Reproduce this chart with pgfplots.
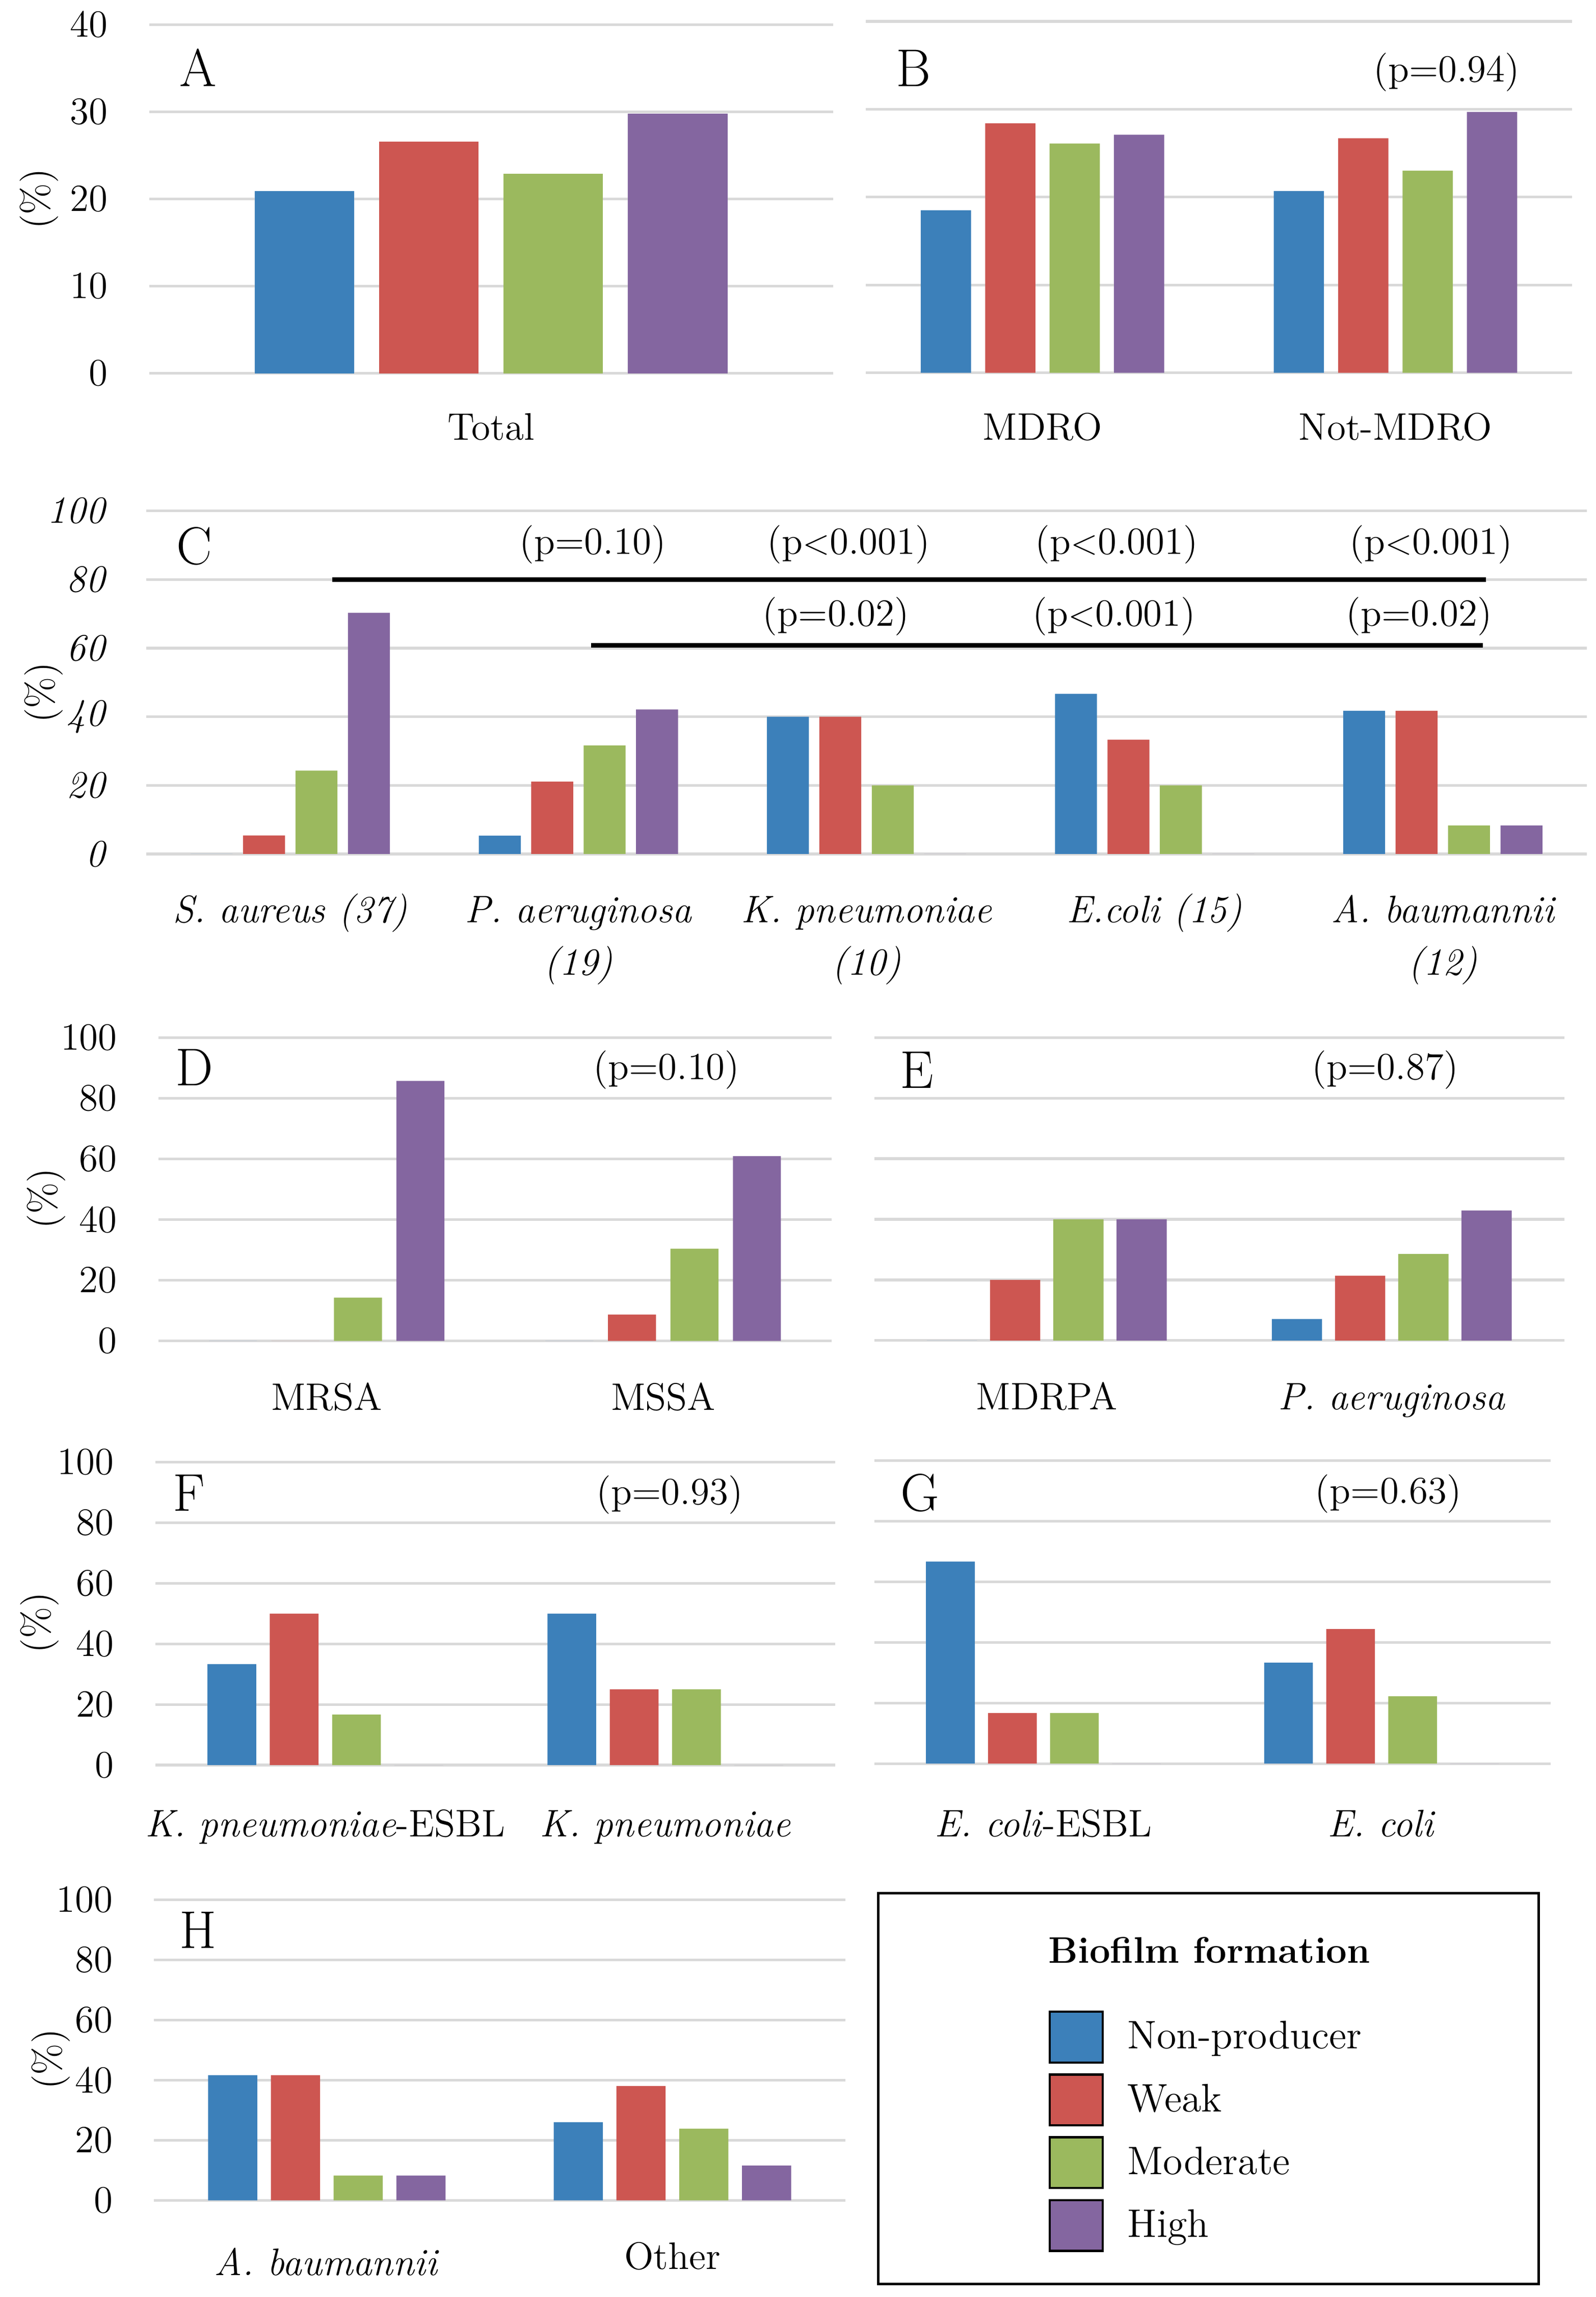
\documentclass[border=0pt]{standalone}
\usepackage{pgfplots}
\pgfplotsset{compat=1.18}
\definecolor{cBlue}{HTML}{3C80BA}
\definecolor{cRed}{HTML}{CD5651}
\definecolor{cGreen}{HTML}{9BB95E}
\definecolor{cPurple}{HTML}{8466A0}
\definecolor{gridgray}{HTML}{D9D9D9}
\newcommand\tf{\fontsize{13}{15.6}\selectfont}
\newcommand\lf{\fontsize{18}{21}\selectfont}
\pgfplotsset{
 /pgfplots/ybar legend/.style={/pgfplots/legend image code/.code={\draw[##1, draw=black, line width=0.75pt] (0pt,-8.6pt) rectangle (18pt,8.6pt);}},
 panel/.style={
  scale only axis, anchor=south west, clip=false,
  axis line style={draw=none}, tick style={draw=none},
  ymajorgrids, major grid style={draw=gridgray, line width=0.9pt},
  ymin=0, ymax=100, ytick={0,20,...,100},
  /pgf/number format/assume math mode=true,
  tick label style={font=\tf},
  yticklabel style={anchor=east, inner sep=0pt, xshift=-13.8pt},
  xticklabel style={anchor=base, inner sep=0pt, yshift=-19pt, align=center},
  ylabel={(\%)}, ylabel style={font=\tf, anchor=center, inner sep=0pt},
  xmin=-0.5, xmax=1.5, xtick={0,1},
 },
 bB/.style={fill=cBlue, draw=none},
 bR/.style={fill=cRed, draw=none},
 bG/.style={fill=cGreen, draw=none},
 bP/.style={fill=cPurple, draw=none},
}
\begin{document}
\begin{tikzpicture}
\useasboundingbox (0,0) rectangle (540.2pt,777.75pt);

% ---------------- A
\begin{axis}[panel, at={(50.5pt,651.35pt)}, width=231.5pt, height=118.05pt,
  ymax=40, ytick={0,10,...,40}, xmin=-0.5, xmax=0.5, xtick={0}, xticklabels={Total},
  xticklabel style={yshift=0.6pt},
  ybar=8.35pt, bar width=33.75pt,
  ylabel style={at={(axis description cs:-0.1607,0.5)}}]
\addplot[bB] coordinates {(0,20.9)};
\addplot[bR] coordinates {(0,26.6)};
\addplot[bG] coordinates {(0,22.9)};
\addplot[bP] coordinates {(0,29.8)};
\node[font=\lf] at (axis cs:-0.4287,35.1) {A};
\end{axis}

% ---------------- B
\begin{axis}[panel, at={(293.2pt,651.5pt)}, width=239pt, height=119pt,
  ymax=40, ytick={0,10,...,40}, yticklabels={}, ylabel={},
  xticklabels={MDRO,Not-MDRO}, xticklabel style={yshift=0.5pt},
  ybar=4.8pt, bar width=17pt]
\addplot[bB] coordinates {(0,18.5) (1,20.7)};
\addplot[bR] coordinates {(0,28.4) (1,26.7)};
\addplot[bG] coordinates {(0,26.1) (1,23.0)};
\addplot[bP] coordinates {(0,27.1) (1,29.7)};
\node[font=\lf] at (axis cs:-0.3657,34.7) {B};
\node[font=\tf] at (axis cs:1.145,34.2) {(p=0.94)};
\end{axis}

% ---------------- C
\begin{axis}[panel, at={(49.5pt,488.6pt)}, width=487.75pt, height=116.15pt,
  xmin=-0.5, xmax=4.5, xtick={0,1,2,3,4},
  xticklabels={{S. aureus (37)\\\mbox{}},{P. aeruginosa\\(19)},{K. pneumoniae\\(10)},{E.coli (15)\\\mbox{}},{A. baumannii\\(12)}},
  xticklabel style={font=\fontsize{13}{17.7}\selectfont\itshape, yshift=-17.7pt},
  yticklabel style={font=\tf\itshape},
  ybar=3.55pt, bar width=14.2pt,
  ylabel style={at={(axis description cs:-0.0713,0.47)}}]
\addplot[bB] coordinates {(0,0) (1,5.3) (2,40) (3,46.7) (4,41.7)};
\addplot[bR] coordinates {(0,5.4) (1,21.1) (2,40) (3,33.3) (4,41.7)};
\addplot[bG] coordinates {(0,24.3) (1,31.6) (2,20) (3,20) (4,8.3)};
\addplot[bP] coordinates {(0,70.3) (1,42.1) (2,0) (3,0) (4,8.3)};
\node[font=\lf] at (axis cs:-0.3334,89.7) {C};
\draw[line width=1.5pt] (axis cs:0.146,80) -- (axis cs:4.150,80);
\draw[line width=1.5pt] (axis cs:1.044,60.8) -- (axis cs:4.140,60.8);
\node[font=\tf] at (axis cs:1.050,90.2) {(p=0.10)};
\node[font=\tf] at (axis cs:1.938,90.2) {(p$<$0.001)};
\node[font=\tf] at (axis cs:2.868,90.2) {(p$<$0.001)};
\node[font=\tf] at (axis cs:3.959,90.2) {(p$<$0.001)};
\node[font=\tf] at (axis cs:1.894,69.3) {(p=0.02)};
\node[font=\tf] at (axis cs:2.860,69.3) {(p$<$0.001)};
\node[font=\tf] at (axis cs:3.918,69.3) {(p=0.02)};
\end{axis}

% ---------------- D
\begin{axis}[panel, at={(53.65pt,323.7pt)}, width=227.85pt, height=102.75pt,
  xticklabels={MRSA,MSSA}, xticklabel style={yshift=-0.1pt},
  ybar=4.9pt, bar width=16.25pt,
  ylabel style={at={(axis description cs:-0.1670,0.47)}}]
\addplot[bB] coordinates {(0,0) (1,0)};
\addplot[bR] coordinates {(0,0) (1,8.7)};
\addplot[bG] coordinates {(0,14.3) (1,30.4)};
\addplot[bP] coordinates {(0,85.7) (1,60.9)};
\node[font=\lf] at (axis cs:-0.394,90.2) {D};
\node[font=\tf] at (axis cs:1.010,89.3) {(p=0.10)};
\end{axis}

% ---------------- E
\begin{axis}[panel, at={(296pt,323.85pt)}, width=233.6pt, height=102.6pt,
  yticklabels={}, ylabel={},
  xticklabels={MDRPA,\textit{P. aeruginosa}}, xticklabel style={yshift=-0.1pt},
  ybar=4.4pt, bar width=17pt]
\addplot[bB] coordinates {(0,0) (1,7.1)};
\addplot[bR] coordinates {(0,20) (1,21.4)};
\addplot[bG] coordinates {(0,40) (1,28.6)};
\addplot[bP] coordinates {(0,40) (1,42.9)};
\node[font=\lf] at (axis cs:-0.376,89.3) {E};
\node[font=\tf] at (axis cs:0.981,89.3) {(p=0.87)};
\end{axis}

% ---------------- F
\begin{axis}[panel, at={(52.6pt,180.1pt)}, width=230.2pt, height=102.55pt,
  xticklabels={\textit{K. pneumoniae}-ESBL,\textit{K. pneumoniae}}, xticklabel style={yshift=-0.9pt},
  ybar=4.6pt, bar width=16.5pt,
  ylabel style={at={(axis description cs:-0.1699,0.47)}}]
\addplot[bB] coordinates {(0,33.3) (1,50)};
\addplot[bR] coordinates {(0,50) (1,25)};
\addplot[bG] coordinates {(0,16.7) (1,25)};
\addplot[bP] coordinates {(0,0) (1,0)};
\node[font=\lf] at (axis cs:-0.401,89.8) {F};
\node[font=\tf] at (axis cs:1.013,89.3) {(p=0.93)};
\end{axis}

% ---------------- G
\begin{axis}[panel, at={(296pt,180.6pt)}, width=229pt, height=102.6pt,
  yticklabels={}, ylabel={},
  xticklabels={\textit{E. coli}-ESBL,\textit{E. coli}}, xticklabel style={yshift=-1.4pt},
  ybar=4.5pt, bar width=16.5pt]
\addplot[bB] coordinates {(0,66.7) (1,33.3)};
\addplot[bR] coordinates {(0,16.7) (1,44.4)};
\addplot[bG] coordinates {(0,16.7) (1,22.2)};
\addplot[bP] coordinates {(0,0) (1,0)};
\node[font=\lf] at (axis cs:-0.365,89.3) {G};
\node[font=\tf] at (axis cs:1.020,89.0) {(p=0.63)};
\end{axis}

% ---------------- H
\begin{axis}[panel, at={(52.15pt,32.7pt)}, width=234pt, height=101.75pt,
  xticklabels={\raisebox{-2.1pt}{\textit{A. baumannii}},Other},
  ybar=4.6pt, bar width=16.65pt,
  ylabel style={at={(axis description cs:-0.1494,0.47)}},
  legend style={at={(axis description cs:1.2942,0.6314)}, anchor=north west,
    draw=none, fill=none, inner sep=0pt, outer sep=0pt,
    row sep=3.3pt, column sep=8pt, font=\fontsize{13.5}{16}\selectfont,
    nodes={inner sep=0pt}},
  legend cell align=left]
\addplot[bB] coordinates {(0,41.7) (1,26.0)};
\addplot[bR] coordinates {(0,41.7) (1,38.1)};
\addplot[bG] coordinates {(0,8.3) (1,23.9)};
\addplot[bP] coordinates {(0,8.3) (1,11.6)};
\legend{Non-producer,Weak,Moderate,High}
\node[font=\lf] at (axis cs:-0.372,89.9) {H};
\end{axis}

% legend frame and title
\draw[line width=0.86pt] (297.3pt,4.4pt) rectangle (520.9pt,136.7pt);
\node[anchor=west, inner sep=0pt, font=\fontsize{12.5}{15}\selectfont\bfseries] at (354.75pt,117.45pt) {Biofilm formation};
\end{tikzpicture}
\end{document}
